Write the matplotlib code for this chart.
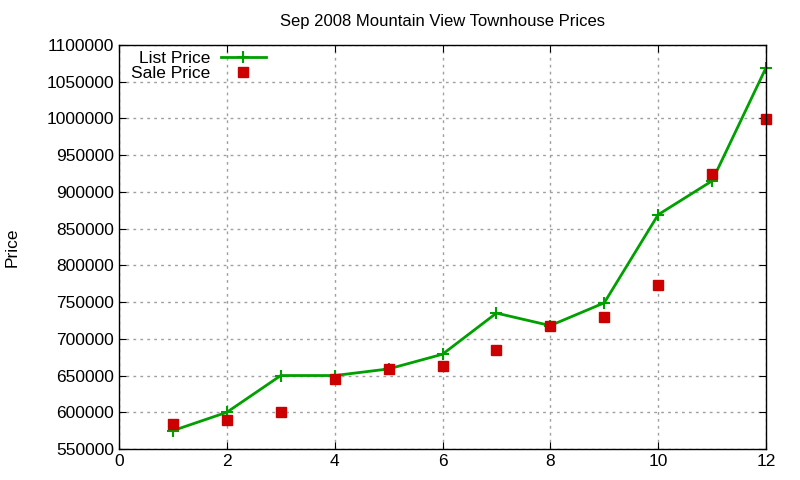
import matplotlib
matplotlib.use("Agg")
import matplotlib.pyplot as plt
from matplotlib.ticker import FormatStrFormatter

plt.rcParams['font.family'] = ['Liberation Sans', 'DejaVu Sans']

months = [1, 2, 3, 4, 5, 6, 7, 8, 9, 10, 11, 12]
list_price = [575000, 600000, 650000, 650000, 659000, 679000,
              735000, 718000, 749000, 869000, 915000, 1069000]
sale_price = [584000, 590000, 601000, 645000, 659000, 663000,
              685000, 717000, 730000, 773000, 924000, 999000]

fig = plt.figure(figsize=(8, 4.8), dpi=100)
ax = fig.add_axes([119/800, 1-449/480, (766-119)/800, (449-45)/480])

ax.plot(months, list_price, color='#00a000', lw=2, marker='+', ms=8,
        mew=1.5, label='List Price', clip_on=False)
ax.plot(months, sale_price, ls='none', color='#cc0000', marker='s', ms=7,
        label='Sale Price', clip_on=False)

ax.set_xlim(0, 12)
ax.set_ylim(550000, 1100000)
ax.set_xticks(range(0, 13, 2))
ax.set_yticks(range(550000, 1100001, 50000))
ax.yaxis.set_major_formatter(FormatStrFormatter('%d'))
ax.tick_params(direction='in', top=True, right=True, labelsize=12.5, length=5)
ax.grid(True, color='#a0a0a0', ls=(0, (2, 3)), lw=1)
ax.set_title('Sep 2008 Mountain View Townhouse Prices', fontsize=12, pad=14)
fig.text(12/800, 1-247/480, 'Price', rotation=90, fontsize=12.5,
         ha='center', va='center')
for s in ax.spines.values():
    s.set_linewidth(1)

ax.legend(loc='upper left', bbox_to_anchor=(0.0, 1.015), frameon=False,
          markerfirst=False, fontsize=12.5, handlelength=2.6, labelspacing=0.0,
          borderaxespad=0.3, handletextpad=0.6)

fig.savefig('out.png')
